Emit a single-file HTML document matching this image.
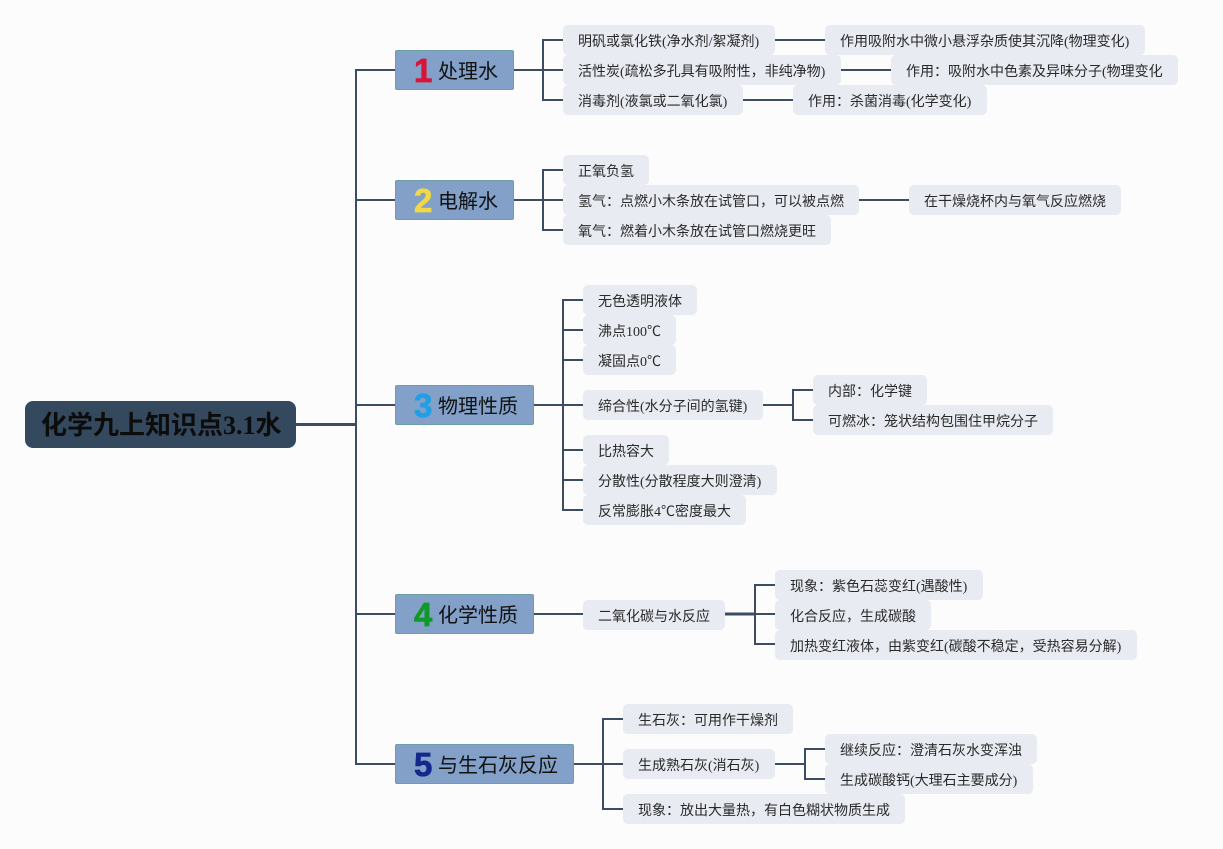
<!DOCTYPE html>
<html lang="zh">
<head>
<meta charset="utf-8">
<title>化学九上知识点3.1水</title>
<style>
html,body{margin:0;padding:0;width:1223px;height:849px;overflow:hidden;background:#fcfcfd;}
body{position:relative;font-family:"Liberation Serif","Noto Sans CJK SC",serif;}
svg{position:absolute;left:0;top:0;}
.n{position:absolute;height:30px;line-height:36px;background:#e8ebf2;border-radius:5px;color:#2a2a2a;font-size:14px;padding-left:15px;box-sizing:border-box;white-space:nowrap;}
.t{position:absolute;height:40px;line-height:41px;background:#82a0c8;border:1px solid #6d9ea6;border-radius:2px;box-sizing:border-box;color:#111;font-size:20px;white-space:nowrap;}
.t span{position:absolute;top:1px;}
.t b{position:absolute;top:1px;font-family:"Liberation Sans","DejaVu Sans",sans-serif;font-weight:bold;font-size:33px;line-height:38px;-webkit-text-stroke:0.7px currentColor;}
.r{position:absolute;left:25px;top:401px;width:271px;height:47px;line-height:49px;background:#34495e;border-radius:8px;color:#0c0c0c;font-size:26px;font-weight:bold;padding-left:16px;box-sizing:border-box;white-space:nowrap;}
</style>
</head>
<body>
<svg width="1223" height="849" viewBox="0 0 1223 849" fill="none" stroke="#3c4c62" stroke-width="2">
<path d="M296 424.5H356" stroke-width="3"/>
<path d="M356 69V765 M356 70H395 M356 200H395 M356 405H395 M356 614H395 M356 764H395"/>
<path d="M514 70H543 M543 39V101 M543 40H563 M543 70H563 M543 100H563 M775 40H825 M841 70H891 M743 100H793"/>
<path d="M514 200H543 M543 169V231 M543 170H563 M543 200H563 M543 230H563 M859 200H909"/>
<path d="M534 405H583 M563 299V511 M563 300H583 M563 330H583 M563 360H583 M563 450H583 M563 480H583 M563 510H583 M763 405H793 M793 389V421 M793 390H813 M793 420H813"/>
<path d="M534 614H583 M755 614H775 M755 584V645 M755 585H775 M755 644H775"/>
<path d="M725 614H755" stroke-width="3"/>
<path d="M574 764H623 M603 718V810 M603 719H623 M603 809H623 M775 764H805 M805 748V780 M805 749H825 M805 779H825"/>
</svg>

<div class="r">化学九上知识点3.1水</div>

<div class="t" style="left:395px;top:50px;width:119px"><b style="left:18px;color:#d8143a">1</b><span style="left:42px">处理水</span></div>
<div class="t" style="left:395px;top:180px;width:119px"><b style="left:18px;color:#f0d848">2</b><span style="left:42px">电解水</span></div>
<div class="t" style="left:395px;top:385px;width:139px"><b style="left:18px;color:#1e9fe6">3</b><span style="left:42px">物理性质</span></div>
<div class="t" style="left:395px;top:594px;width:139px"><b style="left:18px;color:#0f9a28">4</b><span style="left:42px">化学性质</span></div>
<div class="t" style="left:395px;top:744px;width:179px"><b style="left:18px;color:#14288c">5</b><span style="left:42px">与生石灰反应</span></div>

<div class="n" style="left:563px;top:25px;width:212px">明矾或氯化铁(净水剂/絮凝剂)</div>
<div class="n" style="left:825px;top:25px;width:320px">作用吸附水中微小悬浮杂质使其沉降(物理变化)</div>
<div class="n" style="left:563px;top:55px;width:278px">活性炭(疏松多孔具有吸附性，非纯净物)</div>
<div class="n" style="left:891px;top:55px;width:287px">作用：吸附水中色素及异味分子(物理变化</div>
<div class="n" style="left:563px;top:85px;width:180px">消毒剂(液氯或二氧化氯)</div>
<div class="n" style="left:793px;top:85px;width:194px">作用：杀菌消毒(化学变化)</div>

<div class="n" style="left:563px;top:155px;width:86px">正氧负氢</div>
<div class="n" style="left:563px;top:185px;width:296px">氢气：点燃小木条放在试管口，可以被点燃</div>
<div class="n" style="left:909px;top:185px;width:212px">在干燥烧杯内与氧气反应燃烧</div>
<div class="n" style="left:563px;top:215px;width:268px">氧气：燃着小木条放在试管口燃烧更旺</div>

<div class="n" style="left:583px;top:285px;width:114px">无色透明液体</div>
<div class="n" style="left:583px;top:315px;width:93px">沸点100℃</div>
<div class="n" style="left:583px;top:345px;width:93px">凝固点0℃</div>
<div class="n" style="left:583px;top:390px;width:180px">缔合性(水分子间的氢键)</div>
<div class="n" style="left:813px;top:375px;width:114px">内部：化学键</div>
<div class="n" style="left:813px;top:405px;width:240px">可燃冰：笼状结构包围住甲烷分子</div>
<div class="n" style="left:583px;top:435px;width:86px">比热容大</div>
<div class="n" style="left:583px;top:465px;width:194px">分散性(分散程度大则澄清)</div>
<div class="n" style="left:583px;top:495px;width:163px">反常膨胀4℃密度最大</div>

<div class="n" style="left:583px;top:600px;width:142px">二氧化碳与水反应</div>
<div class="n" style="left:775px;top:570px;width:208px">现象：紫色石蕊变红(遇酸性)</div>
<div class="n" style="left:775px;top:600px;width:156px">化合反应，生成碳酸</div>
<div class="n" style="left:775px;top:630px;width:362px">加热变红液体，由紫变红(碳酸不稳定，受热容易分解)</div>

<div class="n" style="left:623px;top:704px;width:170px">生石灰：可用作干燥剂</div>
<div class="n" style="left:623px;top:749px;width:152px">生成熟石灰(消石灰)</div>
<div class="n" style="left:825px;top:734px;width:212px">继续反应：澄清石灰水变浑浊</div>
<div class="n" style="left:825px;top:764px;width:208px">生成碳酸钙(大理石主要成分)</div>
<div class="n" style="left:623px;top:794px;width:282px">现象：放出大量热，有白色糊状物质生成</div>
</body>
</html>
